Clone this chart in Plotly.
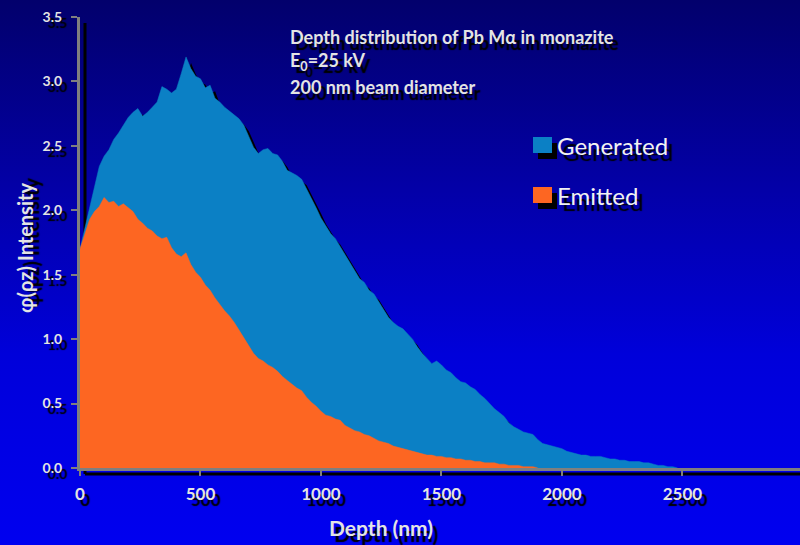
import base64
import plotly.graph_objects as go

# Depth grid (nm) and phi(rho z) intensities
depth_nm = list(range(0, 2500, 20))

generated = [
    1.70, 1.86, 2.02, 2.17, 2.34, 2.42, 2.47, 2.55, 2.60, 2.66,
    2.72, 2.76, 2.79, 2.73, 2.76, 2.80, 2.84, 2.96, 2.94, 2.91,
    2.94, 3.06, 3.19, 3.10, 3.04, 3.02, 2.95, 2.97, 2.87, 2.84,
    2.80, 2.77, 2.74, 2.71, 2.66, 2.58, 2.49, 2.44, 2.47, 2.48,
    2.44, 2.43, 2.38, 2.31, 2.29, 2.27, 2.24, 2.17, 2.10, 2.02,
    1.94, 1.88, 1.82, 1.78, 1.72, 1.66, 1.59, 1.53, 1.47, 1.44,
    1.38, 1.35, 1.29, 1.24, 1.17, 1.13, 1.10, 1.08, 1.04, 1.00,
    0.94, 0.89, 0.85, 0.81, 0.83, 0.80, 0.76, 0.74, 0.70, 0.67,
    0.66, 0.63, 0.61, 0.57, 0.54, 0.50, 0.46, 0.43, 0.40, 0.35,
    0.32, 0.30, 0.28, 0.27, 0.26, 0.22, 0.19, 0.18, 0.17, 0.16,
    0.15, 0.13, 0.12, 0.11, 0.10, 0.10, 0.09, 0.09, 0.09, 0.08,
    0.07, 0.07, 0.06, 0.06, 0.05, 0.05, 0.05, 0.04, 0.04, 0.03,
    0.02, 0.02, 0.01, 0.01, 0.00,
]

emitted = [
    1.70, 1.82, 1.93, 1.99, 2.03, 2.10, 2.06, 2.07, 2.03, 2.05,
    2.02, 1.99, 1.93, 1.90, 1.86, 1.84, 1.80, 1.78, 1.79, 1.71,
    1.66, 1.64, 1.67, 1.58, 1.52, 1.48, 1.42, 1.38, 1.32, 1.27,
    1.22, 1.18, 1.13, 1.07, 1.01, 0.95, 0.89, 0.85, 0.83, 0.80,
    0.78, 0.75, 0.71, 0.68, 0.65, 0.62, 0.60, 0.55, 0.51, 0.48,
    0.44, 0.41, 0.40, 0.38, 0.37, 0.33, 0.31, 0.29, 0.28, 0.26,
    0.25, 0.23, 0.21, 0.20, 0.19, 0.17, 0.16, 0.15, 0.14, 0.13,
    0.12, 0.11, 0.10, 0.10, 0.09, 0.09, 0.08, 0.08, 0.07, 0.07,
    0.06, 0.06, 0.05, 0.05, 0.04, 0.04, 0.04, 0.03, 0.03, 0.02,
    0.02, 0.02, 0.01, 0.01, 0.01, 0.00,
]

x_ticks = [0, 500, 1000, 1500, 2000, 2500]
y_ticks = [0.0, 0.5, 1.0, 1.5, 2.0, 2.5, 3.0, 3.5]
series_names = ["Generated", "Emitted"]
x_title = "Depth (nm)"
y_title = "\u03c6(\u03c1z) Intensity"
note_lines = [
    "Depth distribution of Pb M\u03b1 in monazite",
    "E<sub>0</sub>=25 kV",
    "200 nm beam diameter",
]

# ---- geometry ----
W, H = 800, 545
ML, MR, MT, MB = 80, 0, 17, 77
PW, PH = W - ML - MR, H - MT - MB
X_MAX = 2988
Y_MAX = 3.5
SH_DX, SH_DY = 5, 6  # drop-shadow offset in px

BLUE = "#0b80c5"
ORANGE = "#fd6622"
AXIS_GREY = "#7f7f7f"
TEXT = "#e4e4e4"
FONT = "Lato"
TSHADOW = f"{SH_DX}px {SH_DY}px 1px #000000"


def px_to_paper_x(px):
    return (px - ML) / PW


def px_to_paper_y(py):
    return (H - MB - py) / PH


fig = go.Figure()

# drop shadow of the area chart
dx = SH_DX * X_MAX / PW
dy = SH_DY * Y_MAX / PH
fig.add_trace(go.Scatter(
    x=[d + dx for d in depth_nm], y=[max(v - dy, 0) for v in generated],
    mode="lines", fill="tozeroy", fillcolor="#000000",
    line=dict(color="#000000", width=0), hoverinfo="skip", showlegend=False,
))
fig.add_trace(go.Scatter(
    x=depth_nm, y=generated, name=series_names[0],
    mode="lines", fill="tozeroy", fillcolor=BLUE,
    line=dict(color=BLUE, width=0.5), showlegend=False,
))
fig.add_trace(go.Scatter(
    x=depth_nm[:len(emitted)], y=emitted, name=series_names[1],
    mode="lines", fill="tozeroy", fillcolor=ORANGE,
    line=dict(color=ORANGE, width=0.5), showlegend=False,
))

# vertical background gradient (SVG), dark navy at top to bright blue at bottom
svg = (
    f'<svg xmlns="http://www.w3.org/2000/svg" width="{W}" height="{H}" '
    f'viewBox="0 0 {W} {H}" preserveAspectRatio="none">'
    '<defs><linearGradient id="g" x1="0" y1="0" x2="0" y2="1">'
    '<stop offset="0" stop-color="rgb(2,0,108)"/>'
    '<stop offset="0.35" stop-color="rgb(3,0,168)"/>'
    '<stop offset="0.65" stop-color="rgb(0,0,218)"/>'
    '<stop offset="1" stop-color="rgb(0,0,240)"/>'
    '</linearGradient></defs>'
    f'<rect x="0" y="0" width="{W}" height="{H}" fill="url(#g)"/></svg>'
)
bg_src = "data:image/svg+xml;base64," + base64.b64encode(svg.encode()).decode()
images = [dict(
    source=bg_src, xref="paper", yref="paper",
    x=px_to_paper_x(0), y=px_to_paper_y(0),
    sizex=W / PW, sizey=H / PH, sizing="stretch",
    xanchor="left", yanchor="top", layer="below",
)]

shapes = []

# shadows of the axis lines
shapes.append(dict(
    type="line", xref="paper", yref="paper", layer="below",
    x0=px_to_paper_x(ML + SH_DX), x1=px_to_paper_x(ML + SH_DX),
    y0=px_to_paper_y(H - MB + SH_DY), y1=px_to_paper_y(MT + SH_DY),
    line=dict(color="#000000", width=3),
))
shapes.append(dict(
    type="line", xref="paper", yref="paper", layer="below",
    x0=px_to_paper_x(ML + SH_DX), x1=px_to_paper_x(W),
    y0=px_to_paper_y(H - MB + SH_DY), y1=px_to_paper_y(H - MB + SH_DY),
    line=dict(color="#000000", width=3),
))

# legend swatches with their shadows
legend_rows = [(series_names[0], BLUE, 145), (series_names[1], ORANGE, 195)]
annotations = []
for name, col, cy in legend_rows:
    for off, c in ((SH_DX, "#000000"), (0, col)):
        shapes.append(dict(
            type="rect", xref="paper", yref="paper", layer="above",
            x0=px_to_paper_x(533 + off), x1=px_to_paper_x(552 + off),
            y0=px_to_paper_y(cy + 8 + (SH_DY if off else 0)),
            y1=px_to_paper_y(cy - 8 + (SH_DY if off else 0)),
            fillcolor=c, line=dict(width=0),
        ))
    annotations.append(dict(
        xref="paper", yref="paper", x=px_to_paper_x(555), y=px_to_paper_y(cy),
        xanchor="left", yanchor="middle", text=name, showarrow=False,
        font=dict(family=FONT, size=24, color="#f2f2f2", shadow=TSHADOW),
    ))

# note block in the upper middle
for line, cy in zip(note_lines, [37, 62, 87]):
    annotations.append(dict(
        xref="paper", yref="paper", x=px_to_paper_x(288), y=px_to_paper_y(cy),
        xanchor="left", yanchor="middle", text=line, showarrow=False,
        font=dict(family=FONT, size=18, color=TEXT, weight="bold", shadow=TSHADOW),
    ))

# axis titles
annotations.append(dict(
    xref="paper", yref="paper", x=px_to_paper_x(381), y=px_to_paper_y(527),
    xanchor="center", yanchor="middle", text=x_title, showarrow=False,
    font=dict(family=FONT, size=21, color=TEXT, weight="bold", shadow=TSHADOW),
))
annotations.append(dict(
    xref="paper", yref="paper", x=px_to_paper_x(25), y=px_to_paper_y(248),
    xanchor="center", yanchor="middle", text=y_title, showarrow=False, textangle=-90,
    font=dict(family=FONT, size=20, color=TEXT, weight="bold", shadow=TSHADOW),
))

fig.update_layout(
    width=W, height=H,
    margin=dict(l=ML, r=MR, t=MT, b=MB, pad=0),
    paper_bgcolor="#0000b0", plot_bgcolor="rgba(0,0,0,0)",
    images=images, shapes=shapes, annotations=annotations, showlegend=False,
    xaxis=dict(
        range=[0, X_MAX], tickvals=x_ticks, ticktext=[str(v) for v in x_ticks],
        showgrid=False, zeroline=False, showline=True, linecolor=AXIS_GREY, linewidth=3,
        ticks="outside", ticklen=5, tickwidth=2, tickcolor=AXIS_GREY,
        ticklabelstandoff=4, automargin=False,
        tickfont=dict(family=FONT, size=17, color=TEXT, weight="bold", shadow=TSHADOW),
    ),
    yaxis=dict(
        range=[0, Y_MAX], tickvals=y_ticks, ticktext=["%.1f" % v for v in y_ticks],
        showgrid=False, zeroline=False, showline=True, linecolor=AXIS_GREY, linewidth=3,
        ticks="outside", ticklen=6, tickwidth=2, tickcolor=AXIS_GREY,
        ticklabelstandoff=6, automargin=False,
        tickfont=dict(family=FONT, size=14, color=TEXT, weight="bold", shadow=TSHADOW),
    ),
)

fig.write_html("out.html")
